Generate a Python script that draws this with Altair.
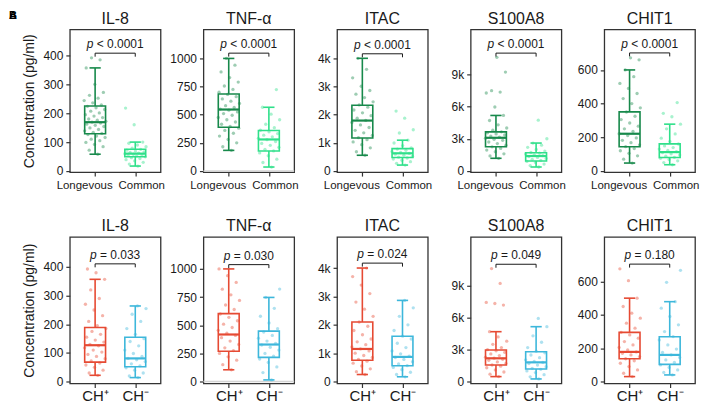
import altair as alt
import pandas as pd

MARKERS = ["IL-8", "TNF-α", "ITAC", "S100A8", "CHIT1"]
TOP_LABELS = ["Longevous", "Common"]
BOTTOM_LABELS = ["CH⁺", "CH⁻"]
TOP_COLORS = ["#17894b", "#2fe08a"]
BOTTOM_COLORS = ["#e64a33", "#3db7db"]
TOP_P = ["< 0.0001", "< 0.0001", "< 0.0001", "< 0.0001", "< 0.0001"]
BOTTOM_P = ["= 0.033", "= 0.030", "= 0.024", "= 0.049", "= 0.180"]
Y_TITLE = "Concentration (pg/ml)"

# y axes
Y_TICKS = [[0, 100, 200, 300, 400], [0, 250, 500, 750, 1000],
           [0, 1000, 2000, 3000, 4000], [0, 3000, 6000, 9000], [0, 200, 400, 600]]
Y_IN_K = [False, False, True, True, False]
TOP_YMAX = [490, 1257, 5010, 13175, 840]
BOTTOM_YMAX = [505, 1284, 5096, 13594, 867]
TOP_BRACKET = [408, 1047, 4150, 10977, 701]
BOTTOM_BRACKET = [411, 1038, 4173, 11025, 704]

# box summaries: [lower whisker, Q1, median, Q3, upper whisker]
IL8_LONG_BOX = [58, 129, 169, 225, 357]
IL8_COMMON_BOX = [17, 49, 60, 75, 100]
TNF_LONG_BOX = [183, 389, 546, 684, 1000]
TNF_COMMON_BOX = [35, 177, 280, 360, 566]
ITAC_LONG_BOX = [556, 1170, 1785, 2330, 3990]
ITAC_COMMON_BOX = [209, 476, 626, 790, 1090]
S100_LONG_BOX = [1180, 2250, 3090, 3640, 5170]
S100_COMMON_BOX = [370, 930, 1390, 1700, 2600]
CHIT_LONG_BOX = [47, 144, 221, 351, 600]
CHIT_COMMON_BOX = [37, 80, 112, 161, 278]

IL8_CHP_BOX = [22, 68, 127, 189, 357]
IL8_CHN_BOX = [14, 52, 81, 155, 264]
TNF_CHP_BOX = [105, 269, 418, 603, 1000]
TNF_CHN_BOX = [15, 215, 329, 448, 747]
ITAC_CHP_BOX = [250, 750, 1150, 2100, 4000]
ITAC_CHN_BOX = [170, 560, 870, 1600, 2860]
S100_CHP_BOX = [470, 1560, 2190, 2970, 4690]
S100_CHN_BOX = [250, 1190, 1810, 2810, 5160]
CHIT_CHP_BOX = [30, 137, 178, 295, 500]
CHIT_CHN_BOX = [40, 103, 160, 269, 479]

# individual observations (estimated)
IL8_LONG_PTS = [58, 72, 84, 92, 99, 105, 110, 116, 121, 126, 130, 134, 139, 144, 149, 154, 158, 162, 166,
                169, 172, 176, 180, 185, 190, 195, 201, 207, 213, 219, 224, 229, 236, 244, 252, 262, 272,
                300, 357, 385, 392]
IL8_COMMON_PTS = [17, 24, 30, 35, 39, 43, 46, 49, 52, 54, 56, 58, 60, 62, 64, 66, 69, 72, 75, 79, 84, 90,
                  96, 100, 160, 218]
TNF_LONG_PTS = [183, 215, 250, 280, 310, 335, 360, 380, 395, 415, 435, 455, 475, 495, 510, 525, 540, 550,
                565, 580, 600, 620, 640, 660, 680, 700, 725, 755, 790, 830, 880, 940, 1000]
TNF_COMMON_PTS = [35, 75, 105, 135, 160, 178, 192, 210, 228, 245, 262, 278, 290, 303, 318, 332, 348, 362,
                  385, 415, 455, 505, 566, 723]
ITAC_LONG_PTS = [556, 680, 820, 930, 1030, 1110, 1180, 1260, 1350, 1440, 1540, 1630, 1720, 1790, 1870,
                 1960, 2060, 2160, 2260, 2340, 2450, 2600, 2720, 2850, 3000, 3300, 3600, 3990]
ITAC_COMMON_PTS = [209, 270, 330, 380, 420, 460, 490, 525, 560, 595, 625, 655, 690, 730, 775, 820, 900,
                   990, 1090, 1345, 1460, 1870, 2120]
S100_LONG_PTS = [1180, 1400, 1600, 1790, 1950, 2100, 2250, 2400, 2550, 2700, 2850, 2950, 3050, 3150, 3250,
                 3350, 3450, 3550, 3650, 3800, 4000, 4300, 4700, 5170, 5960, 7260, 7350, 7480, 9210, 10580]
S100_COMMON_PTS = [370, 500, 640, 780, 890, 980, 1080, 1170, 1260, 1340, 1420, 1500, 1580, 1650, 1720,
                   1850, 2000, 2200, 2400, 2600, 3000, 4730]
CHIT_LONG_PTS = [47, 70, 90, 105, 120, 133, 144, 155, 168, 182, 196, 210, 221, 235, 250, 266, 285, 305,
                 325, 350, 375, 400, 430, 460, 490, 520, 560, 600, 660, 672]
CHIT_COMMON_PTS = [37, 50, 60, 68, 75, 81, 88, 95, 102, 109, 115, 122, 130, 139, 149, 160, 175, 195, 220,
                   250, 278, 322, 342, 406]

IL8_CHP_PTS = [22, 30, 40, 50, 58, 65, 72, 80, 88, 95, 103, 110, 118, 125, 130, 138, 145, 155, 165, 175,
               185, 195, 210, 230, 250, 270, 290, 320, 357, 380, 393]
IL8_CHN_PTS = [14, 20, 30, 40, 48, 55, 62, 70, 76, 81, 88, 98, 110, 125, 140, 150, 165, 185, 210, 235,
               255, 264]
TNF_CHP_PTS = [105, 150, 190, 220, 250, 275, 300, 330, 360, 390, 410, 430, 455, 480, 510, 540, 570, 600,
               640, 680, 720, 770, 820, 880, 940, 1000]
TNF_CHN_PTS = [15, 80, 130, 170, 200, 225, 250, 280, 305, 325, 340, 360, 385, 410, 440, 470, 520, 580,
               650, 747, 821]
ITAC_CHP_PTS = [250, 350, 450, 550, 650, 720, 780, 850, 920, 1000, 1080, 1150, 1220, 1300, 1400, 1500,
                1650, 1800, 1950, 2100, 2300, 2550, 2800, 3100, 3400, 3700, 4000]
ITAC_CHN_PTS = [170, 250, 330, 420, 500, 560, 620, 700, 780, 850, 900, 980, 1080, 1200, 1350, 1500, 1600,
                1800, 2000, 2300, 2600, 2860]
S100_CHP_PTS = [470, 700, 900, 1100, 1300, 1450, 1560, 1700, 1850, 2000, 2100, 2200, 2300, 2450, 2600,
                2750, 2900, 3000, 3200, 3500, 3800, 4200, 4690, 7190, 7340, 7440, 9220, 10620]
S100_CHN_PTS = [250, 450, 650, 850, 1000, 1150, 1250, 1400, 1550, 1700, 1800, 1900, 2050, 2250, 2500,
                2700, 2850, 3200, 3700, 4300, 5160, 5940]
CHIT_CHP_PTS = [30, 50, 70, 90, 110, 125, 137, 150, 160, 170, 178, 190, 205, 220, 240, 260, 280, 295, 320,
                350, 380, 410, 450, 500, 605, 676]
CHIT_CHN_PTS = [40, 55, 70, 85, 100, 115, 130, 145, 160, 175, 195, 220, 250, 270, 300, 340, 390, 440, 479,
                595, 667]

TOP_BOXES = [[IL8_LONG_BOX, IL8_COMMON_BOX], [TNF_LONG_BOX, TNF_COMMON_BOX], [ITAC_LONG_BOX, ITAC_COMMON_BOX],
             [S100_LONG_BOX, S100_COMMON_BOX], [CHIT_LONG_BOX, CHIT_COMMON_BOX]]
BOTTOM_BOXES = [[IL8_CHP_BOX, IL8_CHN_BOX], [TNF_CHP_BOX, TNF_CHN_BOX], [ITAC_CHP_BOX, ITAC_CHN_BOX],
                [S100_CHP_BOX, S100_CHN_BOX], [CHIT_CHP_BOX, CHIT_CHN_BOX]]
TOP_POINTS = [[IL8_LONG_PTS, IL8_COMMON_PTS], [TNF_LONG_PTS, TNF_COMMON_PTS], [ITAC_LONG_PTS, ITAC_COMMON_PTS],
              [S100_LONG_PTS, S100_COMMON_PTS], [CHIT_LONG_PTS, CHIT_COMMON_PTS]]
BOTTOM_POINTS = [[IL8_CHP_PTS, IL8_CHN_PTS], [TNF_CHP_PTS, TNF_CHN_PTS], [ITAC_CHP_PTS, ITAC_CHN_PTS],
                 [S100_CHP_PTS, S100_CHN_PTS], [CHIT_CHP_PTS, CHIT_CHN_PTS]]

PANEL_W = 91
TOP_H = 143
BOTTOM_H = 147
FONT = "Liberation Sans"
TEXT_COLOR = "#1a1a1a"
P_SIZE = 12
GLYPH_Y = -20

CHAR_W = {"p": 0.556, " ": 0.278, "<": 0.584, "=": 0.584, ".": 0.278}


def text_width(s, size):
    return sum(CHAR_W.get(c, 0.556) for c in s) * size


def make_panel(k, row):
    top = row == 0
    box_a, box_b = (TOP_BOXES if top else BOTTOM_BOXES)[k]
    pts_a, pts_b = (TOP_POINTS if top else BOTTOM_POINTS)[k]
    labels = TOP_LABELS if top else BOTTOM_LABELS
    colors = TOP_COLORS if top else BOTTOM_COLORS
    ymax = (TOP_YMAX if top else BOTTOM_YMAX)[k]
    ymin = -ymax * (0.008 if top else 0.013)
    h = TOP_H if top else BOTTOM_H
    bk = (TOP_BRACKET if top else BOTTOM_BRACKET)[k]
    ptxt = (TOP_P if top else BOTTOM_P)[k]

    pts = pd.DataFrame({"g": [1] * len(pts_a) + [2] * len(pts_b), "v": pts_a + pts_b})
    bx = pd.DataFrame({
        "g": [1, 2],
        "lo": [box_a[0], box_b[0]], "q1": [box_a[1], box_b[1]], "med": [box_a[2], box_b[2]],
        "q3": [box_a[3], box_b[3]], "hi": [box_a[4], box_b[4]],
    })
    br = pd.DataFrame({"x1": [1], "x2": [2], "xm": [1.5], "bk": [bk]})

    xs = alt.Scale(domain=[0.37, 2.63], nice=False, zero=False)
    ys = alt.Scale(domain=[ymin, ymax], nice=False, zero=False)
    label_expr = f"datum.value == 1 ? '{labels[0]}' : (datum.value == 2 ? '{labels[1]}' : '')"
    xargs = dict(values=[1, 2], labelExpr=label_expr, title=None, grid=False, domain=False,
                 tickSize=4, labelFontSize=11.5 if top else 15, labelPadding=3 if top else 1,
                 labelAngle=0, labelFlush=False, labelOverlap=False, labelBound=False)
    if top:
        xargs["labelOffset"] = {"condition": {"test": "datum.value == 1", "value": -11}, "value": 6}
    xaxis = alt.Axis(**xargs)
    yargs = dict(values=Y_TICKS[k], grid=False, domain=False, tickSize=4, labelFontSize=12,
                 labelPadding=3, labelFlush=False, labelOverlap=False, labelBound=False)
    if Y_IN_K[k]:
        yargs["labelExpr"] = "datum.value == 0 ? '0' : (datum.value / 1000) + 'k'"
    else:
        yargs["format"] = "d"
    if k == 0:
        yargs["title"] = Y_TITLE
        yargs["titlePadding"] = 6
    else:
        yargs["title"] = None
    yaxis = alt.Axis(**yargs)

    def X(f):
        return alt.X(f, type="quantitative", scale=xs, axis=xaxis)

    def Y(f):
        return alt.Y(f, type="quantitative", scale=ys, axis=yaxis)

    col = alt.Color("g:O", scale=alt.Scale(domain=[1, 2], range=colors), legend=None)
    stk = alt.Stroke("g:O", scale=alt.Scale(domain=[1, 2], range=colors), legend=None)

    layers = []
    if k == 1:
        layers.append(alt.Chart(pd.DataFrame({"z": [0]})).mark_rule(color="#d4d4d4", strokeWidth=1.5)
                      .encode(y=Y("z")))
    base_pts = (alt.Chart(pts)
                .transform_window(rank="row_number()", groupby=["g"], sort=[alt.SortField("v")])
                .transform_calculate(jx="datum.g + ((datum.rank * 0.618034) % 1 - 0.5) * 0.56"))
    layers.append(base_pts.mark_circle(size=11, opacity=0.42).encode(x=X("jx"), y=Y("v"), color=col))

    base_b = alt.Chart(bx).transform_calculate(
        b1="datum.g - 0.26", b2="datum.g + 0.26", c1="datum.g - 0.14", c2="datum.g + 0.14")
    layers.append(base_b.mark_rule(strokeWidth=1.6).encode(x=X("g"), y=Y("lo"), y2="q1", color=col))
    layers.append(base_b.mark_rule(strokeWidth=1.6).encode(x=X("g"), y=Y("q3"), y2="hi", color=col))
    layers.append(base_b.mark_rule(strokeWidth=1.6).encode(x=X("c1"), x2="c2", y=Y("lo"), color=col))
    layers.append(base_b.mark_rule(strokeWidth=1.6).encode(x=X("c1"), x2="c2", y=Y("hi"), color=col))
    layers.append(base_b.mark_rect(fillOpacity=0, strokeWidth=1.6)
                  .encode(x=X("b1"), x2="b2", y=Y("q1"), y2="q3", stroke=stk))
    layers.append(base_b.mark_rule(strokeWidth=2.2).encode(x=X("b1"), x2="b2", y=Y("med"), color=col))

    bbase = alt.Chart(br)
    layers.append(bbase.mark_rule(color=TEXT_COLOR, strokeWidth=1).encode(x=X("x1"), x2="x2", y=Y("bk")))
    layers.append(bbase.mark_rule(color=TEXT_COLOR, strokeWidth=1, y2Offset=3.5)
                  .encode(x=X("x1"), y=Y("bk"), y2="bk"))
    layers.append(bbase.mark_rule(color=TEXT_COLOR, strokeWidth=1, y2Offset=3.5)
                  .encode(x=X("x2"), y=Y("bk"), y2="bk"))
    full = "p " + ptxt
    w = text_width(full, P_SIZE)
    pw = text_width("p ", P_SIZE)
    layers.append(bbase.mark_text(text="p", fontStyle="italic", align="left", baseline="alphabetic",
                                  dx=-w / 2, dy=-5, fontSize=P_SIZE, color=TEXT_COLOR, font=FONT)
                  .encode(x=X("xm"), y=Y("bk")))
    layers.append(bbase.mark_text(text=ptxt, align="left", baseline="alphabetic",
                                  dx=-w / 2 + pw, dy=-5, fontSize=P_SIZE, color=TEXT_COLOR, font=FONT)
                  .encode(x=X("xm"), y=Y("bk")))

    title_args = dict(fontSize=16, fontWeight="normal", color=TEXT_COLOR, font=FONT, offset=3)
    if k == 0 and top:
        layers.append(alt.Chart(pd.DataFrame({"t": ["B", "A"]}))
                      .mark_text(fontSize=11, fontWeight="bold", align="left", baseline="top",
                                 color="#000000", font=FONT)
                      .encode(text="t:N", x=alt.value(-61), y=alt.value(GLYPH_Y)))
        title_args["dy"] = -GLYPH_Y

    return alt.layer(*layers).properties(
        width=PANEL_W, height=h,
        title=alt.TitleParams(MARKERS[k], **title_args),
    )


panels = [make_panel(k, 0) for k in range(5)] + [make_panel(k, 1) for k in range(5)]

chart = (alt.concat(*panels, columns=5, spacing={"row": 65, "column": 43}, bounds="flush", align="each")
         .resolve_scale(color="independent", stroke="independent")
         .properties(padding={"left": 0, "top": 0, "right": 0, "bottom": 0})
         .configure(font=FONT)
         .configure_view(stroke="#333333", strokeWidth=1.3)
         .configure_axis(labelColor=TEXT_COLOR, tickColor="#333333", tickWidth=1.2, titleColor=TEXT_COLOR,
                         titleFontSize=14, titleFontWeight="normal", labelFont=FONT, titleFont=FONT))

chart.save("out.html", embed_options={"renderer": "svg", "actions": False})
